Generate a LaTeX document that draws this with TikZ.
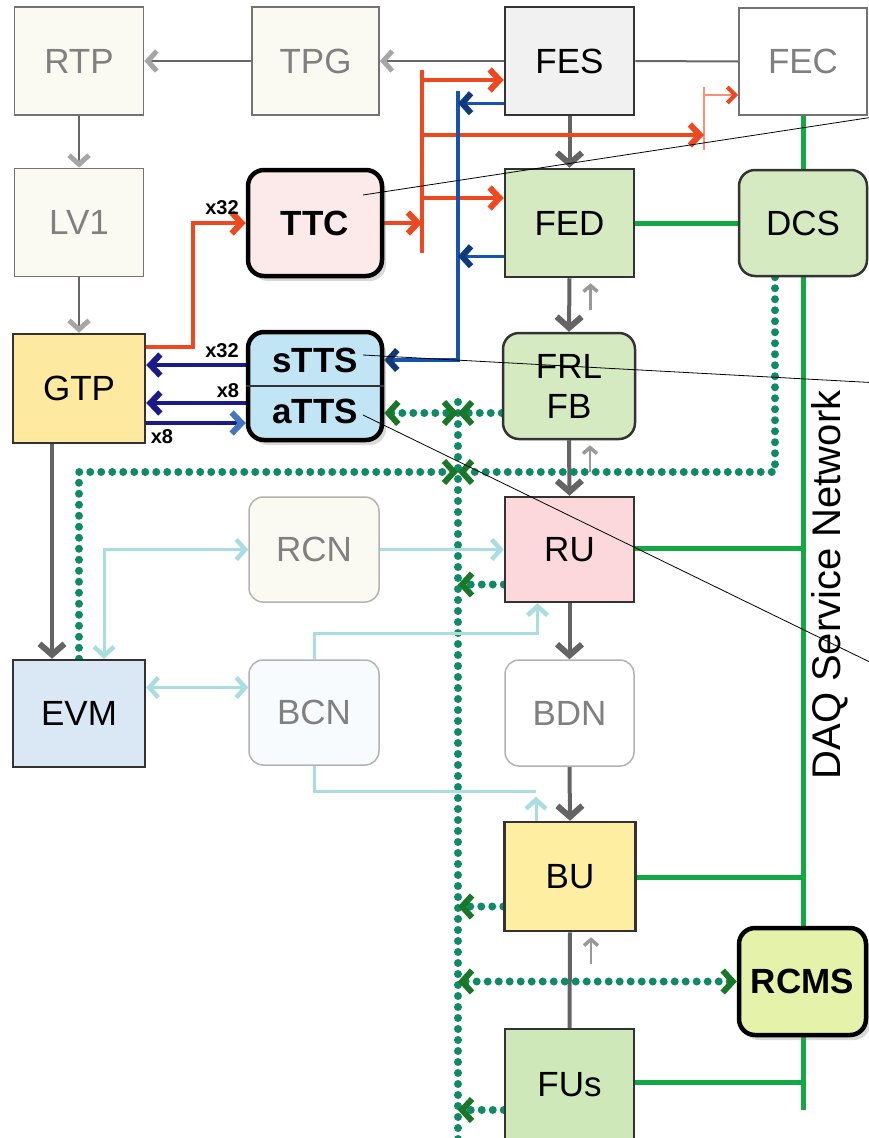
\documentclass[tikz,border=0pt]{standalone}
\usepackage{fontspec}
\setmainfont{Liberation Sans}
\usetikzlibrary{arrows.meta,calc,shadows,backgrounds}
\definecolor{PaleBeige}{RGB}{251,250,242}
\definecolor{FesGray}{RGB}{242,241,242}
\definecolor{TtcPink}{RGB}{252,234,234}
\definecolor{FedGreen}{RGB}{214,234,194}
\definecolor{GtpYellow}{RGB}{253,234,160}
\definecolor{TtsBlue}{RGB}{194,229,245}
\definecolor{RuPink}{RGB}{252,216,220}
\definecolor{EvmBlue}{RGB}{218,232,245}
\definecolor{BcnWhite}{RGB}{248,251,253}
\definecolor{BuYellow}{RGB}{254,238,162}
\definecolor{RcmsGreen}{RGB}{228,242,170}
\definecolor{FuGreen}{RGB}{206,232,186}
\definecolor{TtcRed}{RGB}{240,72,30}
\definecolor{BusBlue}{RGB}{22,82,176}
\definecolor{TtsNavy}{RGB}{26,26,140}
\definecolor{DotGreen}{RGB}{14,138,100}
\definecolor{TipGreen}{RGB}{24,120,40}
\definecolor{NetGreen}{RGB}{20,168,68}
\definecolor{LinkCyan}{RGB}{170,221,225}
\definecolor{FlowGray}{RGB}{100,100,100}
\newcommand{\unitfont}{\fontsize{35}{40}\selectfont}
\newcommand{\unitbold}{\fontsize{35}{40}\selectfont\bfseries}

\begin{document}
\begin{tikzpicture}[x=1pt,y=-1pt,
  box/.style={draw=black!80,line width=2.5pt,minimum width=129pt,minimum height=108pt,inner sep=0pt,font=\unitfont},
  faint/.style={box,draw=black!55,line width=1.8pt,fill=PaleBeige,text=black!50},
  soft/.style={faint,draw=black!30,line width=1.5pt,rounded corners=14pt},
  heavy/.style={box,draw=black,line width=4.5pt,rounded corners=16pt,font=\unitbold,
    drop shadow={opacity=.3,shadow xshift=4pt,shadow yshift=-5pt}},
  mult/.style={font=\fontsize{20}{22}\selectfont\bfseries,inner sep=0pt},
  fadeline/.style={draw=black!60,line width=2pt,>={Straight Barb[length=9pt,width=20pt,line width=5pt,color=black!35]}},
  flowline/.style={draw=FlowGray,line width=4pt,>={Straight Barb[length=11pt,width=25pt,line width=6pt]}},
  backline/.style={draw=black!40,line width=2.5pt,>={Straight Barb[length=6pt,width=14pt,line width=3.5pt]}},
  redline/.style={draw=TtcRed,line width=4pt,>={Straight Barb[length=10pt,width=21pt,line width=6pt]}},
  thinred/.style={draw=TtcRed!60,line width=1.5pt,>={Straight Barb[length=8pt,width=16pt,line width=4pt,color=TtcRed]}},
  blueline/.style={draw=BusBlue,line width=3.5pt,>={Straight Barb[length=9pt,width=20pt,line width=6pt,color=BusBlue!70!black]}},
  navyline/.style={draw=TtsNavy,line width=4pt,>={Straight Barb[length=10pt,width=21pt,line width=6pt]}},
  dotline/.style={draw=DotGreen,line width=8pt,line cap=round,dash pattern=on 0pt off 11pt,
    >={Straight Barb[length=10pt,width=22pt,line width=6pt,color=TipGreen]}},
  netline/.style={draw=NetGreen,line width=5pt},
  cyanline/.style={draw=LinkCyan,line width=3pt,>={Straight Barb[length=9pt,width=20pt,line width=4.5pt]}},
  callout/.style={draw=black,line width=0.8pt}]
  \useasboundingbox (0,0) rectangle (869,1138);

  % top row
  \node[faint] (RTP) at (79,61) {RTP};
  \node[faint,minimum width=127pt] (TPG) at (315.5,61) {TPG};
  \node[box,fill=FesGray] (FES) at (569.5,61) {FES};
  \node[faint,fill=white,minimum width=128pt,minimum height=107pt] (FEC) at (803,61.5) {FEC};

  % second row
  \node[faint] (LV1) at (79,222.5) {LV1};
  \node[heavy,fill=TtcPink,minimum width=134pt,minimum height=106pt] (TTC) at (315,223) {TTC};
  \node[box,fill=FedGreen] (FED) at (569.5,223) {FED};
  \node[box,fill=FedGreen,rounded corners=16pt,minimum width=128pt,minimum height=106pt] (DCS) at (803,223) {DCS};

  % third row
  \node[box,fill=GtpYellow,minimum width=132pt,minimum height=109pt] (GTP) at (79,388.5) {GTP};
  \node[heavy,fill=TtsBlue,minimum width=134pt] (TTS) at (315,386) {};
  \draw[line width=1.5pt,black!80] (TTS.west) -- (TTS.east);
  \node[font=\unitbold,inner sep=0pt] (sTTS) at (315,360) {sTTS};
  \node[font=\unitbold,inner sep=0pt] (aTTS) at (315,411) {aTTS};
  \node[box,fill=FedGreen,rounded corners=16pt,minimum width=132pt,minimum height=106pt,align=center] (FRL) at (569,386) {FRL\\FB};

  % fourth row
  \node[soft,minimum width=130pt,minimum height=105pt] (RCN) at (314,549.5) {RCN};
  \node[box,fill=RuPink,minimum height=105pt] (RU) at (569.5,549.5) {RU};

  % fifth row
  \node[box,fill=EvmBlue,minimum width=132pt,minimum height=107pt] (EVM) at (79,713.5) {EVM};
  \node[soft,fill=BcnWhite,minimum width=130pt,minimum height=105pt] (BCN) at (314,712.5) {BCN};
  \node[soft,fill=white,minimum height=106pt] (BDN) at (569.5,713) {BDN};

  % bottom
  \node[box,fill=BuYellow,minimum width=131pt,minimum height=109pt] (BU) at (570,876.5) {BU};
  \node[heavy,fill=RcmsGreen,minimum width=127pt,minimum height=107pt] (RCMS) at (802.5,981.5) {RCMS};
  \node[box,fill=FuGreen,minimum height=112pt] (FUs) at (569.5,1085) {FUs};

  \node[rotate=90,font=\fontsize{40}{44}\selectfont,inner sep=0pt] (DAQ) at (830,585) {DAQ Service Network};

  \begin{pgfonlayer}{background}
    % trigger chain
    \draw[fadeline,->] (FES.west) -- (TPG.east);
    \draw[fadeline,->] (TPG.west) -- (RTP.east);
    \draw[fadeline] (FES.east) -- (FEC.west);
    \draw[fadeline,->] (RTP.south) -- (LV1.north);
    \draw[fadeline,->] (LV1.south) -- (GTP.north);

    % event data flow
    \draw[flowline,->] (FES.south) -- (FED.north);
    \draw[flowline,->] (FED.south) -- (FRL.north);
    \draw[flowline,->] (FRL.south) -- (RU.north);
    \draw[flowline,->] (RU.south) -- (BDN.north);
    \draw[flowline,->] (BDN.south) -- (BU.north);
    \draw[flowline] (BU.south) -- (FUs.north);
    \draw[flowline,->] ($(GTP.south)+(-27,0)$) -- ($(EVM.north)+(-27,0)$);
    \foreach \up in {FED,FRL,BU}{
      \draw[backline,->] ($(\up.south)+(21,32)$) -- ($(\up.south)+(21,5)$);
    }

    % TTC distribution
    \draw[redline,->] ($(GTP.north east)+(0,14)$) -| ($(TTC.west)+(-53,0)$) -- (TTC.west);
    \coordinate (rbT) at (422,70);
    \coordinate (rbB) at (422,253);
    \draw[redline] (rbT) -- (rbB);
    \draw[redline,->] (TTC.east) -- (TTC.east -| rbT);
    \path (rbT) ++(0,10) coordinate (rbFES) ++(0,55) coordinate (rbFEC) ++(0,63) coordinate (rbFED);
    \draw[redline,->] (rbFES) -- (rbFES -| FES.west);
    \draw[redline,->] (rbFED) -- (rbFED -| FED.west);
    \coordinate (fecT) at (704,87);
    \coordinate (fecB) at (704,150);
    \coordinate (fecIn) at (704,95);
    \draw[thinred] (fecT) -- (fecB);
    \draw[redline,->] (rbFEC) -- (rbFEC -| fecT);
    \draw[thinred,->] (fecIn) -- (fecIn -| FEC.west);

    % sTTS collection
    \coordinate (bbT) at (458,91);
    \coordinate (bbB) at (458,360);
    \draw[blueline,->] (bbT) -- (bbB) -- (bbB -| TTS.east);
    \path (FES.south west) ++(0,-13) coordinate (fesOut);
    \path (FED.south west) ++(0,-22) coordinate (fedOut);
    \draw[blueline,->] (fesOut) -- (fesOut -| bbT);
    \draw[blueline,->] (fedOut) -- (fedOut -| bbT);

    % TTS to GTP
    \path (TTS.west) ++(0,-21) coordinate (sOut) ++(0,38) coordinate (aOut) ++(0,20) coordinate (aIn);
    \draw[navyline,->] (sOut) -- (sOut -| GTP.east);
    \draw[navyline,->] (aOut) -- (aOut -| GTP.east);
    \draw[navyline,>={Straight Barb[length=10pt,width=21pt,line width=6pt,color=BusBlue!80]},->] (aIn -| GTP.east) -- (aIn);

    % aTTS and run control
    \coordinate (dT) at (458,402);
    \coordinate (dB) at (458,1150);
    \draw[dotline] (dT) -- (dB);
    \path (TTS.east) ++(0,27) coordinate (aJ);
    \coordinate (jA) at (aJ -| dT);
    \coordinate (jB) at (458,472);
    \draw[dotline,<->] (aJ) -- (jA);
    \draw[dotline,->] (FRL.west |- aJ) -- (jA);
    \draw[dotline,->] (EVM.north) |- (jB);
    \draw[dotline,->] ($(DCS.south)+(-28,0)$) |- (jB);
    \foreach \src/\dy in {RU/35,BU/30,FUs/25}{
      \path (\src.west) ++(0,\dy) coordinate (o);
      \draw[dotline,->] (o) -- (o -| dT);
    }
    \draw[dotline,<->] (RCMS.west) -- (RCMS.west -| dT);

    % DAQ service network
    \coordinate (netB) at (803,1110);
    \draw[netline] (FEC.south) -- (netB);
    \draw[netline] (FED.east) -- (DCS.west);
    \foreach \src/\dy in {RU/-1,BU/1,FUs/-3}{
      \path (\src.east) ++(0,\dy) coordinate (n);
      \draw[netline] (n) -- (n -| netB);
    }

    % builder networks
    \draw[cyanline,<->] ($(EVM.north)+(25,0)$) |- (RCN.west);
    \draw[cyanline,->] (RCN.east) -- (RU.west);
    \path (EVM.east) ++(0,-26) coordinate (evB);
    \draw[cyanline,<->] (evB) -- (evB -| BCN.west);
    \draw[cyanline,->] (BCN.north) |- ($(RU.south)+(-32,30)$) -- ($(RU.south)+(-32,0)$);
    \draw[cyanline] (BCN.south) |- ($(BU.north)+(-34,-29)$);
    \draw[cyanline,->] ($(BU.north)+(-34,0)$) -- ++(0,-24);
  \end{pgfonlayer}

  % multiplicities
  \node[mult] (m1) at (222,208) {x32};
  \node[mult] (m2) at (222,351) {x32};
  \node[mult] (m3) at (228,391) {x8};
  \node[mult] (m4) at (162,437) {x8};

  % callouts
  \coordinate (c1) at (880,116);
  \coordinate (c2) at (880,383);
  \coordinate (c3) at (880,667);
  \draw[callout] ($(TTC.center)+(48,-28)$) -- (c1);
  \draw[callout] ($(TTS.center)+(48,-31)$) -- (c2);
  \draw[callout] ($(TTS.center)+(48,29)$) -- (c3);
\end{tikzpicture}
\end{document}
